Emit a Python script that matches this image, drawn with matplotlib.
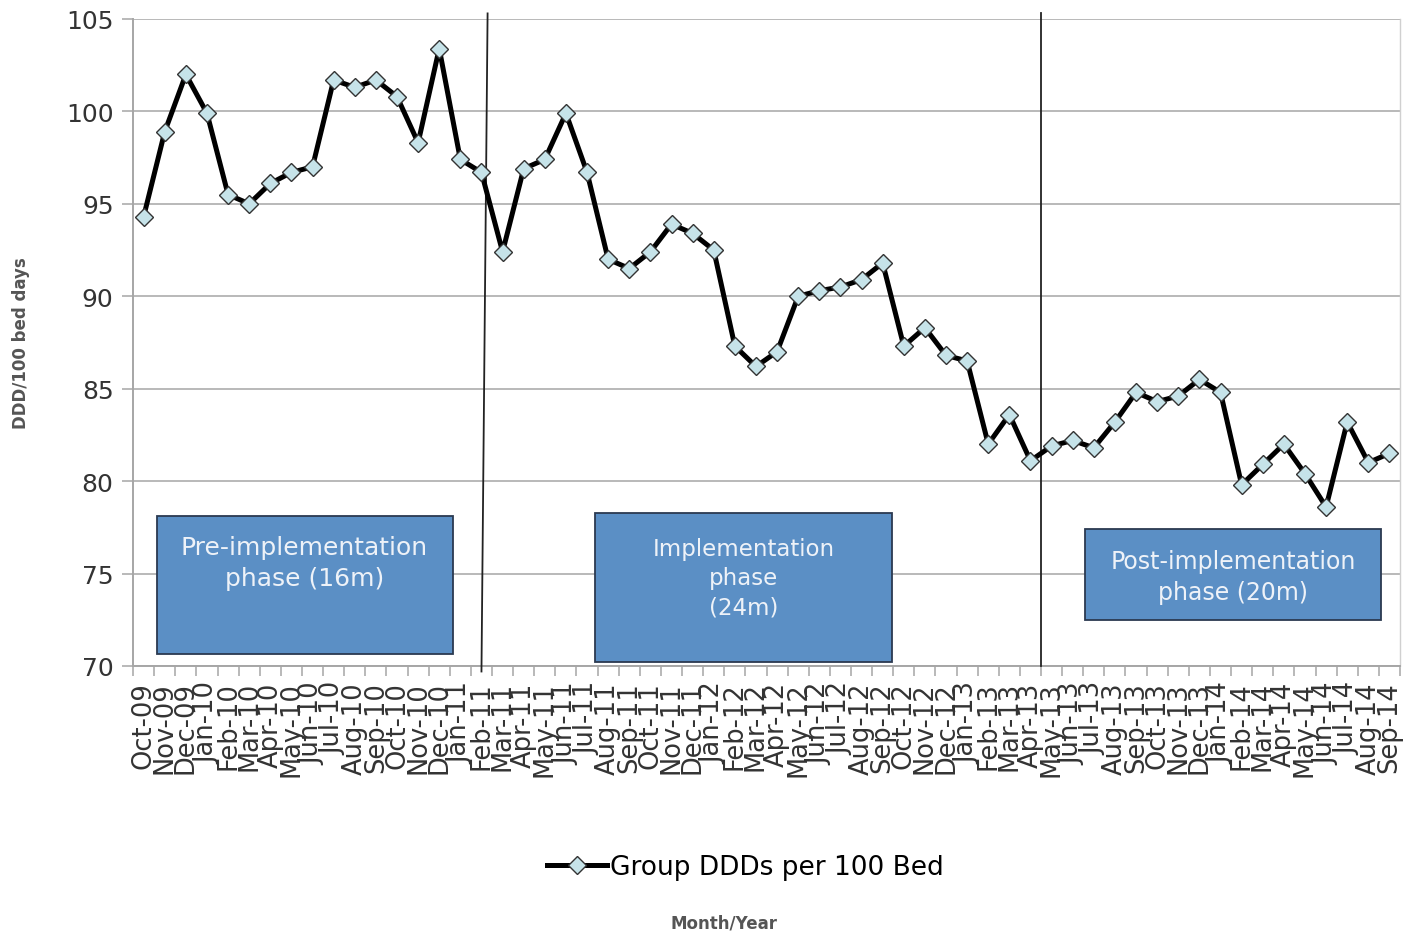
import matplotlib.pyplot as plt
from matplotlib.patches import Rectangle
from matplotlib.lines import Line2D

# --- Data ---
month_names = ['Jan', 'Feb', 'Mar', 'Apr', 'May', 'Jun', 'Jul', 'Aug', 'Sep', 'Oct', 'Nov', 'Dec']
# Oct-09 .. Sep-14
labels = []
for i in range(60):
    mi = (9 + i) % 12
    yr = 9 + (9 + i) // 12
    labels.append(f"{month_names[mi]}-{yr:02d}")

ddd = [94.3, 98.9, 102.0, 99.9, 95.5, 95.0, 96.1, 96.7, 97.0, 101.7,
       101.3, 101.7, 100.8, 98.3, 103.4, 97.4, 96.7, 92.4, 96.9, 97.4,
       99.9, 96.7, 92.0, 91.5, 92.4, 93.9, 93.4, 92.5, 87.3, 86.2,
       87.0, 90.0, 90.3, 90.5, 90.9, 91.8, 87.3, 88.3, 86.8, 86.5,
       82.0, 83.6, 81.1, 81.9, 82.2, 81.8, 83.2, 84.8, 84.3, 84.6,
       85.5, 84.8, 79.8, 80.9, 82.0, 80.4, 78.6, 83.2, 81.0, 81.5]

phase_text = ["Pre-implementation\nphase (16m)",
              "Implementation\nphase\n(24m)",
              "Post-implementation\nphase (20m)"]

x = list(range(len(ddd)))

fig = plt.figure(figsize=(14.14, 9.37), dpi=100)
ax = fig.add_axes([0.0941, 0.2882, 0.8960, 0.6905])

ax.grid(axis='y', color='#a6a6a6', linewidth=1.1, zorder=0)
ax.set_axisbelow(True)

ax.plot(x, ddd, color='black', linewidth=3.6, marker='D', markersize=9.5,
        markerfacecolor='#c6e3e9', markeredgecolor='#333333', markeredgewidth=1.0,
        zorder=4, label='Group DDDs per 100 Bed')

ax.set_xlim(-0.5, len(ddd) - 0.5)
ax.set_ylim(70, 105)
ax.set_yticks(range(70, 106, 5))
ax.set_xticks(x)
ax.set_xticklabels(labels, rotation=90, fontsize=18.5, color='#333333', va='top', ha='center')
ax.set_xticks([i - 0.5 for i in range(len(ddd) + 1)], minor=True)
ax.tick_params(axis='x', which='major', length=0, pad=11)
ax.tick_params(axis='x', which='minor', length=7, color='#a6a6a6', width=1.1)
ax.tick_params(axis='y', length=8, color='#a6a6a6', width=1.1, labelsize=18,
               labelcolor='#333333', pad=6)

ax.spines['top'].set_visible(False)
ax.spines['left'].set_color('#a6a6a6')
ax.spines['left'].set_linewidth(1.4)
ax.spines['bottom'].set_color('#a6a6a6')
ax.spines['bottom'].set_linewidth(1.4)
ax.spines['right'].set_color('#d0d0d0')
ax.spines['right'].set_linewidth(1.0)

# phase separators
ax.plot([16.29, 16.0], [105.3, 69.7], color='#222222', linewidth=1.3, clip_on=False, zorder=3)
ax.plot([42.52, 42.52], [105.3, 70.0], color='#222222', linewidth=1.3, clip_on=False, zorder=3)

# phase boxes
boxes = [(0.62, 70.65, 14.01, 7.46), (21.4, 70.22, 14.02, 8.06), (44.6, 72.49, 14.02, 4.92)]
text_pos = [(7.62, 75.6), (28.41, 74.76), (51.6, 74.85)]
text_size = [18, 16.5, 17]
for (bx, by, bw, bh), (tx, ty), t, fs in zip(boxes, text_pos, phase_text, text_size):
    ax.add_patch(Rectangle((bx, by), bw, bh, facecolor='#5b8fc5', edgecolor='#2b3950',
                           linewidth=1.3, zorder=5))
    ax.text(tx, ty, t, ha='center', va='center', fontsize=fs, color='#eef2f8',
            linespacing=1.35, zorder=6)

ax.set_ylabel('DDD/100 bed days', fontsize=12, fontweight='bold', color='#555555')
ax.yaxis.set_label_coords(-0.081, 0.5)

handle = Line2D([], [], color='black', linewidth=3.6, marker='D', markersize=9.5,
                markerfacecolor='#c6e3e9', markeredgecolor='#333333', markeredgewidth=1.0)
fig.legend([handle], ['Group DDDs per 100 Bed'], loc='center', bbox_to_anchor=(0.527, 0.0736),
           frameon=False, fontsize=19, handlelength=2.3, handletextpad=0.1)
fig.text(0.512, 0.0149, 'Month/Year', ha='center', va='center', fontsize=12,
         fontweight='bold', color='#555555')

plt.savefig('out.png', dpi=100)
